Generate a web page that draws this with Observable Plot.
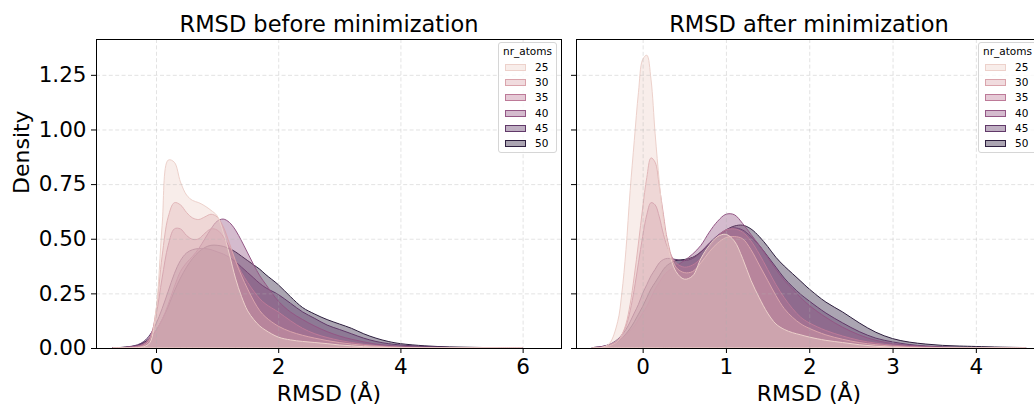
<!DOCTYPE html>
<html><head><meta charset="utf-8">
<script src="https://cdn.jsdelivr.net/npm/d3@7"></script>
<script src="https://cdn.jsdelivr.net/npm/@observablehq/plot@0.6"></script>
<style>
html,body{margin:0;padding:0;background:#fff;overflow:hidden;}
#fig{position:relative;width:1034px;height:405px;overflow:hidden;background:#fff;font-family:"DejaVu Sans",sans-serif;}
#fig svg{position:absolute;top:0;}
.legend{position:absolute;top:42px;width:59px;height:111px;border:1px solid #d6d6d6;border-radius:3px;background:rgba(255,255,255,0.8);box-sizing:border-box;font-size:10.5px;color:#000;font-family:"DejaVu Sans",sans-serif;}
.legend .ttl{position:absolute;left:0;right:0;text-align:center;top:1.5px;line-height:13px;}
.legend .row{position:absolute;left:0;right:0;height:13px;line-height:13px;}
.legend .sw{position:absolute;left:6px;top:3px;width:21px;height:7px;box-sizing:border-box;border:1px solid;}
.legend .lb{position:absolute;left:36px;top:0;}
</style></head>
<body><div id="fig"></div>
<script>
// ---------------- data ----------------
const nrAtoms = [25, 30, 35, 40, 45, 50];
const yTicks = [0, 0.25, 0.5, 0.75, 1.0, 1.25];
const xTicksBefore = [0, 2, 4, 6];
const xTicksAfter = [0, 1, 2, 3, 4];
const titleBefore = "RMSD before minimization";
const titleAfter = "RMSD after minimization";
const xLabel = "RMSD (Å)";
const yLabel = "Density";
const legendTitle = "nr_atoms";

// density curves, panel "before minimization"
const xBefore = [-0.7,-0.5,-0.3,-0.2,-0.1,0,0.1,0.2,0.3,0.4,0.5,0.6,0.7,0.8,0.9,1.0,1.1,1.2,1.3,1.4,1.5,1.6,1.7,1.8,2.0,2.2,2.4,2.6,2.8,3.0,3.2,3.4,3.6,3.8,4.0,4.4,4.8,5.2,5.6,6.0];
const before25 = [0,0,0.002,0.006,0.025,0.17,0.56,0.86,0.85,0.76,0.70,0.675,0.665,0.65,0.63,0.605,0.53,0.43,0.32,0.235,0.17,0.13,0.10,0.08,0.05,0.037,0.03,0.025,0.02,0.014,0.01,0.006,0.004,0.002,0.001,0,0,0,0,0];
const before30 = [0,0.001,0.004,0.012,0.04,0.17,0.42,0.60,0.665,0.655,0.62,0.595,0.588,0.60,0.612,0.60,0.555,0.48,0.40,0.33,0.27,0.215,0.17,0.14,0.10,0.075,0.058,0.045,0.034,0.025,0.018,0.012,0.008,0.005,0.003,0.001,0,0,0,0];
const before35 = [0.001,0.002,0.008,0.018,0.05,0.15,0.32,0.47,0.545,0.545,0.515,0.497,0.50,0.525,0.545,0.54,0.51,0.46,0.40,0.345,0.30,0.26,0.225,0.20,0.165,0.125,0.09,0.065,0.048,0.035,0.025,0.017,0.011,0.007,0.004,0.001,0,0,0,0];
const before40 = [0.001,0.003,0.01,0.02,0.04,0.08,0.13,0.20,0.28,0.35,0.39,0.42,0.455,0.50,0.545,0.58,0.59,0.575,0.54,0.49,0.435,0.38,0.33,0.29,0.215,0.165,0.13,0.10,0.075,0.055,0.04,0.028,0.018,0.012,0.008,0.003,0.001,0,0,0];
const before45 = [0.001,0.004,0.015,0.03,0.06,0.11,0.18,0.26,0.34,0.40,0.435,0.45,0.455,0.455,0.45,0.44,0.43,0.415,0.395,0.37,0.345,0.32,0.295,0.275,0.245,0.205,0.165,0.135,0.105,0.085,0.065,0.045,0.03,0.02,0.014,0.007,0.003,0.001,0,0];
const before50 = [0.001,0.004,0.012,0.025,0.045,0.08,0.13,0.19,0.26,0.32,0.37,0.41,0.44,0.46,0.47,0.47,0.465,0.455,0.44,0.42,0.40,0.38,0.36,0.335,0.29,0.235,0.185,0.155,0.13,0.11,0.09,0.065,0.045,0.03,0.02,0.01,0.005,0.003,0.001,0];

// density curves, panel "after minimization"
const xAfter = [-0.6,-0.5,-0.4,-0.3,-0.25,-0.2,-0.15,-0.1,-0.05,0,0.05,0.1,0.15,0.2,0.25,0.3,0.4,0.5,0.6,0.7,0.8,0.9,1.0,1.1,1.2,1.3,1.4,1.5,1.6,1.7,1.8,1.9,2.0,2.2,2.4,2.6,2.8,3.0,3.2,3.4,3.6,3.8,4.0,4.3,4.6];
const after25 = [0,0.002,0.02,0.12,0.25,0.45,0.72,0.95,1.17,1.32,1.34,1.23,0.98,0.76,0.58,0.47,0.35,0.315,0.33,0.41,0.47,0.51,0.52,0.49,0.41,0.31,0.23,0.16,0.11,0.085,0.07,0.06,0.05,0.035,0.025,0.015,0.008,0.004,0.002,0,0,0,0,0,0];
const after30 = [0,0.002,0.01,0.03,0.06,0.11,0.20,0.33,0.48,0.64,0.78,0.87,0.85,0.74,0.61,0.49,0.37,0.345,0.35,0.39,0.44,0.48,0.505,0.51,0.50,0.45,0.38,0.31,0.24,0.18,0.14,0.11,0.09,0.06,0.04,0.025,0.015,0.008,0.004,0.002,0,0,0,0,0];
const after35 = [0.001,0.003,0.012,0.035,0.06,0.10,0.17,0.27,0.39,0.51,0.61,0.665,0.655,0.60,0.52,0.46,0.39,0.37,0.38,0.41,0.46,0.51,0.54,0.545,0.53,0.49,0.43,0.36,0.29,0.23,0.18,0.14,0.115,0.08,0.055,0.035,0.022,0.013,0.007,0.004,0.002,0,0,0,0];
const after40 = [0.002,0.006,0.015,0.03,0.045,0.06,0.08,0.10,0.13,0.16,0.19,0.23,0.27,0.30,0.33,0.35,0.375,0.40,0.43,0.47,0.53,0.58,0.612,0.61,0.57,0.52,0.47,0.415,0.36,0.31,0.27,0.23,0.195,0.14,0.095,0.06,0.035,0.02,0.012,0.007,0.004,0.002,0,0,0];
const after45 = [0.002,0.006,0.016,0.04,0.06,0.085,0.12,0.16,0.20,0.25,0.29,0.33,0.36,0.39,0.405,0.41,0.405,0.40,0.41,0.44,0.48,0.515,0.54,0.55,0.54,0.51,0.47,0.42,0.37,0.32,0.28,0.245,0.215,0.16,0.115,0.075,0.045,0.028,0.016,0.009,0.005,0.003,0.001,0,0];
const after50 = [0.002,0.005,0.013,0.03,0.045,0.065,0.09,0.12,0.155,0.19,0.23,0.27,0.30,0.33,0.36,0.38,0.40,0.405,0.415,0.44,0.475,0.51,0.54,0.558,0.562,0.545,0.51,0.465,0.415,0.375,0.34,0.305,0.27,0.21,0.165,0.115,0.072,0.043,0.027,0.018,0.012,0.009,0.007,0.004,0.002];

// ---------------- style helpers ----------------
// seaborn default cubehelix colormap (light -> dark)
function cubehelixColor(x) {
  const gamma = 1, start = 0, rot = 0.4, hue = 0.8;
  const xg = Math.pow(x, gamma);
  const a = hue * xg * (1 - xg) / 2;
  const phi = 2 * Math.PI * (start / 3 + rot * x);
  const c = Math.cos(phi), s = Math.sin(phi);
  const r = xg + a * (-0.14861 * c + 1.78277 * s);
  const g = xg + a * (-0.29227 * c - 0.90649 * s);
  const b = xg + a * (1.97294 * c);
  const f = v => Math.round(Math.max(0, Math.min(1, v)) * 255);
  return d3.rgb(f(r), f(g), f(b)).formatHex();
}
const palette = nrAtoms.map((d, i) => cubehelixColor(0.85 - 0.7 * i / (nrAtoms.length - 1)));

function buildRows(xs, series) {
  const rows = [];
  // draw the largest nr_atoms first so the smallest ends up on top
  for (let k = series.length - 1; k >= 0; k--) {
    xs.forEach((x, i) => rows.push({x, y: series[k][i], n: nrAtoms[k]}));
  }
  return rows;
}
const rowsBefore = buildRows(xBefore, [before25, before30, before35, before40, before45, before50]);
const rowsAfter = buildRows(xAfter, [after25, after30, after35, after40, after45, after50]);

const fig = document.getElementById("fig");
const yDomain = [0, 1.414];

function panel(rows, xDomain, xTicks, showYLabels, width, mLeft, mRight, title, left) {
  const marks = [
    Plot.area(rows, {x1: "x", y1: 0, y2: "y", z: "n", fill: "n", stroke: "n", fillOpacity: 0.4, strokeWidth: 1, curve: "catmull-rom", clip: true}),
    Plot.gridX(xTicks, {stroke: "#b0b0b0", strokeOpacity: 0.35, strokeDasharray: "4,2.4"}),
    Plot.gridY(yTicks, {stroke: "#b0b0b0", strokeOpacity: 0.35, strokeDasharray: "4,2.4"}),
    Plot.axisX(xTicks, {tickSize: 5, tickPadding: 5, tickFormat: d3.format("d"), label: null}),
    Plot.axisY(yTicks, {tickSize: 5, tickPadding: 5, tickFormat: showYLabels ? d3.format(".2f") : () => "", label: null}),
    Plot.frame({stroke: "#000", strokeWidth: 1}),
    Plot.text([title], {frameAnchor: "top", lineAnchor: "middle", dy: -14.5, fontSize: 22.5}),
    Plot.text([xLabel], {frameAnchor: "bottom", lineAnchor: "middle", dy: 45, fontSize: 22})
  ];
  if (showYLabels) marks.push(Plot.text([yLabel], {frameAnchor: "left", lineAnchor: "middle", dx: -74.5, rotate: -90, fontSize: 22}));
  const svg = Plot.plot({
    width, height: 405,
    marginLeft: mLeft, marginRight: mRight, marginTop: 39, marginBottom: 57,
    style: {fontFamily: '"DejaVu Sans", sans-serif', fontSize: "21.5px", color: "#000", background: "transparent", overflow: "visible"},
    x: {domain: xDomain},
    y: {domain: yDomain},
    color: {type: "ordinal", domain: nrAtoms, range: palette},
    marks
  });
  svg.style.left = left + "px";
  fig.appendChild(svg);
}

function legend(left) {
  const box = document.createElement("div");
  box.className = "legend";
  box.style.left = left + "px";
  const t = document.createElement("div");
  t.className = "ttl";
  t.textContent = legendTitle;
  box.appendChild(t);
  nrAtoms.forEach((n, i) => {
    const row = document.createElement("div");
    row.className = "row";
    row.style.top = (17.8 + 15.3 * i) + "px";
    const sw = document.createElement("div");
    sw.className = "sw";
    const c = d3.rgb(palette[i]);
    sw.style.background = `rgba(${c.r},${c.g},${c.b},0.4)`;
    sw.style.borderColor = palette[i];
    const lb = document.createElement("div");
    lb.className = "lb";
    lb.textContent = String(n);
    row.appendChild(sw);
    row.appendChild(lb);
    box.appendChild(row);
  });
  fig.appendChild(box);
}

panel(rowsBefore, [-0.982, 6.628], xTicksBefore, true, 566, 96, 5, titleBefore, 0);
panel(rowsAfter, [-0.80, 4.782], xTicksAfter, false, 480, 10, 5, titleAfter, 566);
legend(498);
legend(978);
</script>
</body></html>
